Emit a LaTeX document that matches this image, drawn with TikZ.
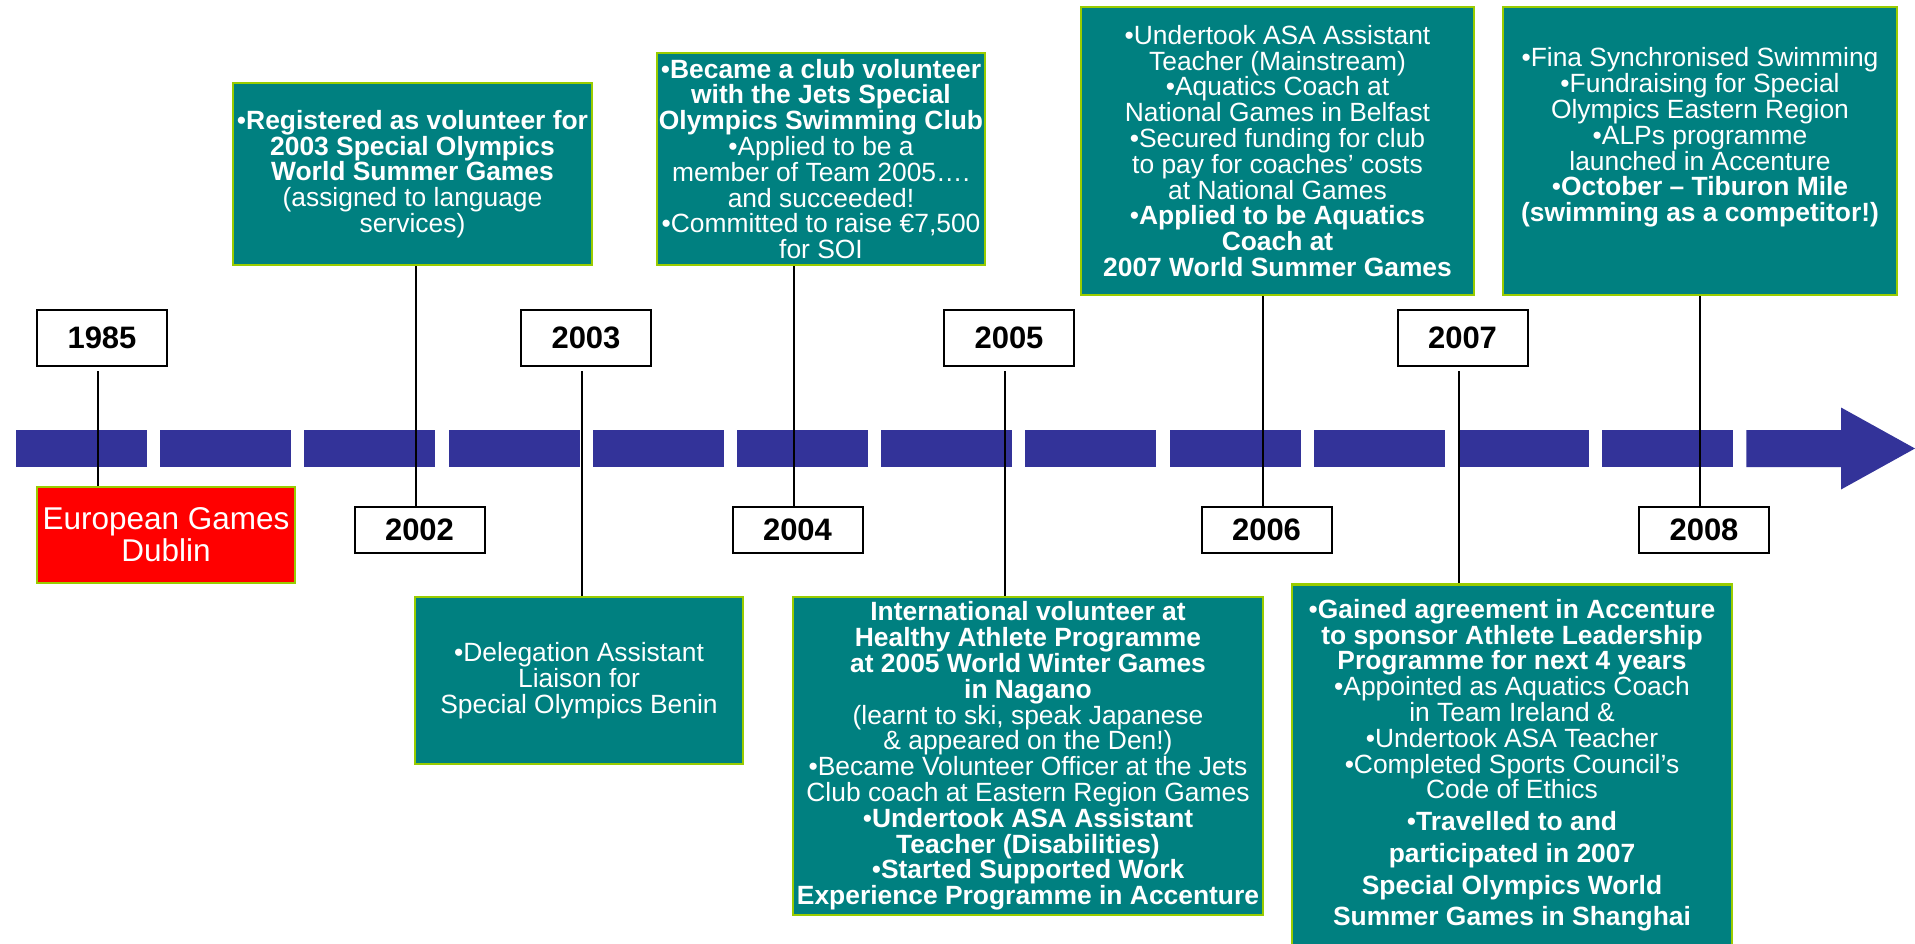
\documentclass[tikz,border=0pt]{standalone}
\usepackage{fontspec}
\setmainfont{Liberation Sans}
\definecolor{evfill}{HTML}{008080}
\definecolor{evborder}{HTML}{99CC00}
\definecolor{barblue}{HTML}{333399}
\definecolor{evred}{HTML}{FF0000}
\begin{document}
\begin{tikzpicture}[x=1pt,y=-1pt,
  yearbox/.style={draw=black, line width=2pt, fill=white, inner sep=0pt, minimum width=130pt, font=\fontsize{31}{36}\selectfont\bfseries},
  upyear/.style={yearbox, minimum height=56pt},
  lowyear/.style={yearbox, minimum height=46pt},
  evbox/.style={draw=evborder, line width=2.5pt, fill=evfill, text=white, align=center, inner sep=0pt, font=\fontsize{26.4}{25.8}\selectfont},
  redbox/.style={evbox, fill=evred, font=\fontsize{31.5}{31.7}\selectfont},
  connector/.style={draw=black, line width=2pt},
  barpart/.style={fill=barblue}
]
% canvas
\path[use as bounding box, fill=white] (0,0) rectangle (1915,944);

% dashed timeline bar with arrow head
\foreach \k in {0,...,11}
  \fill[barpart] ({16+\k*144.2},430) rectangle ++(131,37);
\fill[barpart] (1746.4,430) -- (1841,430) -- (1841,407.5) -- (1915,448.5)
  -- (1841,489.5) -- (1841,467) -- (1746.4,467) -- cycle;

% year boxes
\node[upyear]  (y85) at (102,338)   {1985};
\node[lowyear] (y02) at (419.5,530) {2002};
\node[upyear]  (y03) at (586,338)   {2003};
\node[lowyear] (y04) at (797.5,530) {2004};
\node[upyear]  (y05) at (1009,338)  {2005};
\node[lowyear] (y06) at (1266.5,530){2006};
\node[upyear]  (y07) at (1462.5,338){2007};
\node[lowyear] (y08) at (1704,530)  {2008};

% event boxes
\node[redbox, minimum width=258pt, minimum height=96pt] (e85) at (166,535)
  {European Games\\Dublin};

\node[evbox, minimum width=359pt, minimum height=182pt] (e02) at (412.5,174)
  {•\textbf{Registered as volunteer for}\\
   \textbf{2003 Special Olympics}\\
   \textbf{World Summer Games}\\
   (assigned to language\\
   services)};

\node[evbox, minimum width=328pt, minimum height=167pt] (e03) at (579,680.5)
  {•Delegation Assistant\\
   Liaison for\\
   Special Olympics Benin};

\node[evbox, minimum width=328pt, minimum height=212pt] (e04) at (821,159)
  {•\textbf{Became a club volunteer}\\
   \textbf{with the Jets Special}\\
   \textbf{Olympics Swimming Club}\\
   •Applied to be a\\
   member of Team 2005….\\
   and succeeded!\\
   •Committed to raise €7,500\\
   for SOI};

\node[evbox, minimum width=470pt, minimum height=318pt] (e05) at (1028,756)
  {\textbf{International volunteer at}\\
   \textbf{Healthy Athlete Programme}\\
   \textbf{at 2005 World Winter Games}\\
   \textbf{in Nagano}\\
   (learnt to ski, speak Japanese\\
   \& appeared on the Den!)\\
   •Became Volunteer Officer at the Jets\\
   Club coach at Eastern Region Games\\
   •\textbf{Undertook ASA Assistant}\\
   \textbf{Teacher (Disabilities)}\\
   •\textbf{Started Supported Work}\\
   \textbf{Experience Programme in Accenture}};

\node[evbox, minimum width=393pt, minimum height=288pt] (e06) at (1277.5,151)
  {•Undertook ASA Assistant\\
   Teacher (Mainstream)\\
   •Aquatics Coach at\\
   National Games in Belfast\\
   •Secured funding for club\\
   to pay for coaches’ costs\\
   at National Games\\
   •\textbf{Applied to be Aquatics}\\
   \textbf{Coach at}\\
   \textbf{2007 World Summer Games}};

\node[evbox, anchor=north, minimum width=440pt, inner ysep=15pt, text depth=40pt] (e07) at (1512,583)
  {•\textbf{Gained agreement in Accenture}\\
   \textbf{to sponsor Athlete Leadership}\\
   \textbf{Programme for next 4 years}\\
   •Appointed as Aquatics Coach\\
   in Team Ireland \&\\
   •Undertook ASA Teacher\\
   •Completed Sports Council’s\\
   Code of Ethics\\[5.9pt]
   •\textbf{Travelled to and}\\[5.9pt]
   \textbf{participated in 2007}\\[5.9pt]
   \textbf{Special Olympics World}\\[5.9pt]
   \textbf{Summer Games in Shanghai}};

\node[evbox, minimum width=394pt, minimum height=288pt, text depth=32.5pt] (e08) at (1700,151)
  {•Fina Synchronised Swimming\\
   •Fundraising for Special\\
   Olympics Eastern Region\\
   •ALPs programme\\
   launched in Accenture\\
   •\textbf{October – Tiburon Mile}\\
   \textbf{(swimming as a competitor!)}};

% connectors
\draw[connector] ([xshift=-4pt,yshift=-4pt]y85.south) -- ([xshift=-4pt]y85.south |- e85.north);
\draw[connector] ([xshift=-4pt]y02.north) -- ([xshift=-4pt]y02.north |- e02.south);
\draw[connector] ([xshift=-4pt,yshift=-4pt]y03.south) -- ([xshift=-4pt]y03.south |- e03.north);
\draw[connector] ([xshift=-4pt]y04.north) -- ([xshift=-4pt]y04.north |- e04.south);
\draw[connector] ([xshift=-4pt,yshift=-4pt]y05.south) -- ([xshift=-4pt]y05.south |- e05.north);
\draw[connector] ([xshift=-4pt]y06.north) -- ([xshift=-4pt]y06.north |- e06.south);
\draw[connector] ([xshift=-4pt,yshift=-4pt]y07.south) -- ([xshift=-4pt]y07.south |- e07.north);
\draw[connector] ([xshift=-4pt]y08.north) -- ([xshift=-4pt]y08.north |- e08.south);
\end{tikzpicture}
\end{document}
